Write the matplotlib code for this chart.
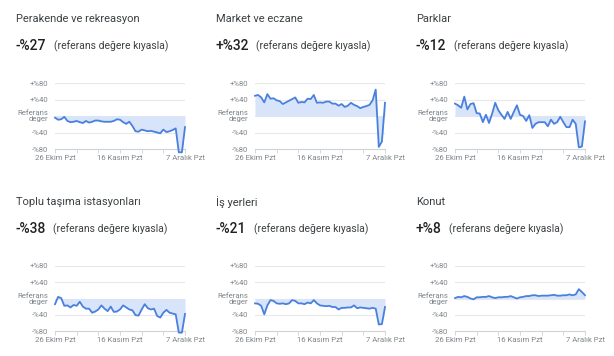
import numpy as np
import matplotlib
matplotlib.use("Agg")
import matplotlib.pyplot as plt

plt.rcParams['font.family'] = ['Roboto', 'DejaVu Sans']

# --- data (percent change vs. reference value, 26 Oct .. 7 Dec, daily) ---
titles = ["Perakende ve rekreasyon", "Market ve eczane", "Parklar",
          "Toplu taşıma istasyonları", "İş yerleri", "Konut"]
changes = ["-%27", "+%32", "-%12", "-%38", "-%21", "+%8"]
subtitle = "(referans değere kıyasla)"

perakende = [-4, -9, -8, -2, -12, -15, -14, -12, -15, -17,
             -12, -16, -14, -11, -11, -13, -14, -14, -14, -12,
             -8, -9, -15, -19, -14, -24, -37, -38, -33, -35,
             -37, -36, -38, -40, -42, -33, -39, -37, -34, -30,
             -88, -88, -27]
market = [49, 51, 45, 33, 53, 42, 43, 38, 36, 29,
          33, 37, 41, 45, 32, 34, 33, 42, 41, 51,
          32, 33, 32, 35, 35, 30, 30, 25, 29, 22,
          25, 32, 27, 24, 19, 22, 24, 27, 38, 64,
          -75, -62, 32]
parklar = [30, 26, 20, 47, 16, 29, 31, 7, 6, -15,
           3, -17, 6, 32, 14, 3, -7, 10, -7, 10,
           26, 3, 0, -12, 2, -29, -19, -15, -15, -15,
           -25, -9, -19, -15, -2, -15, -27, -27, -9, -19,
           -76, -74, -13]
toplu = [-14, 4, 1, -18, -17, -22, -16, -18, -8, -20,
         -25, -25, -35, -32, -27, -17, -25, -31, -20, -33,
         -32, -27, -17, -22, -27, -29, -41, -42, -27, -14,
         -24, -27, -25, -43, -47, -35, -28, -35, -37, -39,
         -84, -84, -38]
is_yerleri = [-12, -13, -18, -39, -17, -4, -6, -12, -13, -12,
              -14, -12, -4, -6, -12, -12, -14, -10, -12, -4,
              -12, -17, -18, -19, -18, -21, -21, -27, -23, -23,
              -22, -22, -17, -24, -22, -23, -24, -25, -23, -25,
              -64, -63, -21]
konut = [1, 4, 3, 6, 4, 0, -2, 3, 3, 4,
         4, 6, 3, 1, 3, 3, 4, 4, 6, 3,
         0, 3, 4, 6, 6, 8, 8, 6, 7, 7,
         7, 8, 9, 7, 7, 8, 8, 10, 8, 10,
         23, 16, 8]
series = [perakende, market, parklar, toplu, is_yerleri, konut]

week_ticks = [0, 7, 14, 21, 28, 35, 42]
xtick_labels = ["26 Ekim Pzt", "", "", "16 Kasım Pzt", "", "", "7 Aralık Pzt"]
ytick_vals = [80, 40, 0, -40, -80]
ytick_labels = ["+%80", "+%40", "Referans\ndeğer", "-%40", "-%80"]

LINE = "#4a80dd"
FILL = "#d7e4fa"
GRID = "#e6e8eb"
TICK = "#80868b"

W, H = 614, 356
fig = plt.figure(figsize=(W / 100, H / 100), dpi=100)

col_left = [55, 255, 455]
rows = [(83, 149), (266, 331)]   # pixel top / bottom of plot area

for i, vals in enumerate(series):
    top, bot = rows[i // 3]
    left = col_left[i % 3]
    ax = fig.add_axes([left / W, 1 - bot / H, 130 / W, (bot - top) / H])
    x = np.arange(len(vals))
    y = np.array(vals, dtype=float)

    for g in [80, 40, 0, -40]:
        ax.axhline(g, color=GRID, lw=0.8, zorder=0)
    ax.fill_between(x, y, 0, color=FILL, lw=0, clip_on=False, zorder=1)
    ax.plot(x, y, color=LINE, lw=1.3, clip_on=False, zorder=3,
            solid_joinstyle='round')

    ax.set_xlim(0, 42)
    ax.set_ylim(-80, 80)
    ax.set_yticks(ytick_vals)
    ax.set_yticklabels(ytick_labels, fontsize=5.6, color=TICK,
                       linespacing=0.9)
    ax.set_xticks(week_ticks)
    ax.set_xticklabels(xtick_labels, fontsize=5.6, color=TICK)
    ax.tick_params(axis='y', length=0, pad=5)
    ax.tick_params(axis='x', length=3, color="#cfd2d6", width=0.6, pad=1)
    for s in ['top', 'right', 'left']:
        ax.spines[s].set_visible(False)
    ax.spines['bottom'].set_color("#cfd2d6")
    ax.spines['bottom'].set_linewidth(0.8)

    # titles
    fig.text((left - 39) / W, 1 - (top - 64) / H, titles[i], fontsize=8,
             color="#3c4043", va='center', ha='left')
    t = fig.text((left - 39) / W, 1 - (top - 37) / H, changes[i],
                 fontsize=10, fontweight='medium', color="#202124",
                 va='center', ha='left')
    r = fig.canvas.get_renderer()
    bb = t.get_window_extent(r)
    fig.text((bb.x1 + 7) / W, 1 - (top - 37) / H, subtitle, fontsize=7.5,
             color="#3c4043", va='center', ha='left')

fig.savefig("out.png", dpi=100, facecolor="white")
